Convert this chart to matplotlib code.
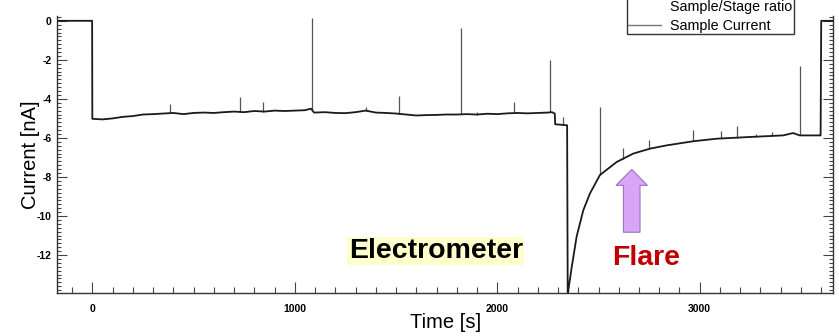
import numpy as np
import matplotlib.pyplot as plt
from matplotlib.lines import Line2D
from matplotlib.ticker import MultipleLocator

plt.rcParams['font.family'] = ['Liberation Sans', 'DejaVu Sans']
plt.rcParams['axes.unicode_minus'] = False

# baseline of the sample current (time in s, current in nA)
base_t = [-175, -1, 0, 50, 100, 150, 200, 250, 300, 350, 400, 450, 500, 550, 600, 650,
          700, 750, 800, 850, 900, 950, 1000, 1050, 1080, 1095, 1150, 1200, 1250, 1300,
          1350, 1400, 1450, 1500, 1550, 1600, 1650, 1700, 1750, 1800, 1850, 1900, 1950,
          2000, 2050, 2100, 2150, 2200, 2250, 2270, 2284, 2286, 2345, 2348, 2351, 2368,
          2392, 2425, 2458, 2507, 2590, 2672, 2754, 2837, 2968, 3083, 3248, 3412, 3461,
          3494, 3593, 3597, 3600, 3660]
base_i = [0.0, 0.0, -5.02, -5.05, -5.0, -4.92, -4.88, -4.8, -4.78, -4.75, -4.72, -4.78,
          -4.72, -4.7, -4.72, -4.68, -4.65, -4.68, -4.62, -4.65, -4.6, -4.62, -4.6, -4.58,
          -4.5, -4.7, -4.68, -4.72, -4.73, -4.68, -4.6, -4.7, -4.72, -4.75, -4.8, -4.85,
          -4.83, -4.82, -4.8, -4.8, -4.78, -4.8, -4.76, -4.78, -4.74, -4.72, -4.74, -4.72,
          -4.7, -4.68, -4.75, -5.3, -5.35, -14.2, -13.8, -12.6, -11.05, -9.7, -8.84, -7.9,
          -7.23, -6.8, -6.55, -6.38, -6.17, -6.04, -5.95, -5.87, -5.75, -5.87, -5.87,
          -5.87, 0.0, 0.0]

# narrow spikes: time and tip current
spike_t = [385, 730, 845, 1086, 1350, 1515, 1822, 1900, 2082, 2258, 2325, 2508, 2620,
           2750, 2967, 3105, 3183, 3277, 3356, 3494]
spike_i = [-4.25, -3.88, -4.18, 0.15, -4.4, -3.86, -0.37, -4.68, -4.15, -2.0, -4.95,
           -4.42, -6.5, -6.1, -5.58, -5.66, -5.41, -5.78, -5.7, -2.3]

x_ticks = [0, 1000, 2000, 3000]
y_ticks = [0, -2, -4, -6, -8, -10, -12]

fig = plt.figure(figsize=(8.39, 3.36), dpi=100)
ax = fig.add_axes([0.0683, 0.127, 0.9245, 0.825])

spike_base = np.interp(spike_t, base_t, base_i)
ax.vlines(spike_t, spike_base, spike_i, color='#555555', lw=0.9)
ax.plot(base_t, base_i, color='#1a1a1a', lw=1.3)

ax.set_xlim(-173, 3658)
ax.set_ylim(-13.96, 0.24)

ax.set_xticks(x_ticks)
ax.set_yticks(y_ticks)
ax.xaxis.set_minor_locator(MultipleLocator(100))
ax.yaxis.set_minor_locator(MultipleLocator(0.2))
ax.tick_params(axis='both', which='both', direction='in', right=True, top=False,
               color='#444444', width=0.8)
ax.tick_params(axis='x', which='major', length=8, pad=8, labelsize=7.5)
ax.tick_params(axis='x', which='minor', length=4)
ax.tick_params(axis='y', which='major', length=7, pad=4, labelsize=7.5)
ax.tick_params(axis='y', which='minor', length=3)
for lab in ax.get_xticklabels() + ax.get_yticklabels():
    lab.set_fontweight('bold')
ax.spines['top'].set_visible(False)
for s in ['left', 'right', 'bottom']:
    ax.spines[s].set_color('#333333')
    ax.spines[s].set_linewidth(1.0)

ax.set_xlabel('Time [s]', fontsize=14.5)
ax.set_ylabel('Current [nA]', fontsize=14.5)
ax.xaxis.set_label_coords(0.5, -0.071)
ax.yaxis.set_label_coords(-0.0223, 0.5)

ax.text(2127, -11.79, 'Electrometer', fontsize=20.5, fontweight='bold', ha='right',
        va='center', bbox=dict(boxstyle='square,pad=0.05', fc='#ffffcc', ec='none'))
ax.text(2735, -12.16, 'Flare', fontsize=20.5, fontweight='bold', color='#c00000',
        ha='center', va='center')
ax.arrow(2664, -10.83, 0, 3.22, width=82, head_width=155, head_length=0.82,
         length_includes_head=True, fc='#d9a6f7', ec='#9b72c0', lw=0.8)

handles = [Line2D([], [], linestyle='none'),
           Line2D([], [], color='#777777', lw=1.0)]
fig.legend(handles, ['Sample/Stage ratio', 'Sample Current'], loc='lower left',
           bbox_to_anchor=(627 / 839, 1 - 34 / 336), fontsize=10.3, frameon=True,
           fancybox=False, edgecolor='#333333', framealpha=1, borderpad=0.1,
           handlelength=2.3, handletextpad=0.6, labelspacing=0.35, borderaxespad=0)

fig.savefig('out.png', dpi=100)
